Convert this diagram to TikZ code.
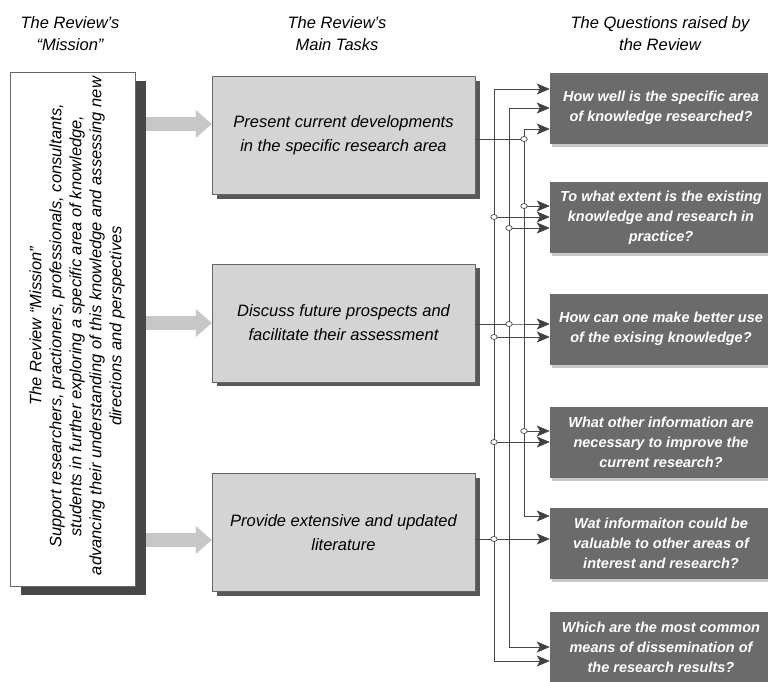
\documentclass[tikz,border=0pt]{standalone}
\usepackage{fontspec}
\setmainfont{Liberation Sans}
\usepackage{tikz}
\usetikzlibrary{arrows.meta,shadows,shapes.geometric}
\tikzset{%
  head/.style={
    align=center,
    inner sep=0pt,
    font=\fontsize{16.5}{22}\selectfont\itshape
  },
  mission box/.style={
    draw=black!60,
    fill=white,
    minimum width=125pt,
    minimum height=514pt,
    drop shadow={shadow xshift=11pt, shadow yshift=-9pt, fill=black!72, opacity=1}
  },
  mission text/.style={
    align=center,
    inner sep=0pt,
    font=\fontsize{16.5}{20}\selectfont\itshape
  },
  task box/.style={
    draw=black!60,
    fill=black!17,
    minimum width=263pt,
    minimum height=118pt,
    align=center,
    font=\fontsize{16.5}{24}\selectfont\itshape,
    drop shadow={shadow xshift=5pt, shadow yshift=-4pt, fill=black!65, opacity=1}
  },
  question box/.style={
    fill=black!58,
    text=white,
    minimum width=222pt,
    minimum height=71pt,
    align=center,
    font=\fontsize{14.5}{20}\selectfont\bfseries\itshape,
    drop shadow={shadow xshift=2pt, shadow yshift=-3pt, fill=black!22, opacity=1}
  },
  feed/.style={
    draw=black!22,
    line width=14pt,
    -{Triangle[length=16pt,width=27pt]}
  },
  link/.style={
    draw=black!72,
    line width=0.8pt
  },
  joint/.style={
    ellipse,
    draw=black!72,
    fill=white,
    line width=0.7pt,
    minimum width=6.5pt,
    minimum height=5pt,
    inner sep=0pt
  },
}

\begin{document}
\begin{tikzpicture}[x=1pt, y=-1pt, > = {Stealth[length=13pt,width=11pt,inset=3pt,fill=black!75]}]
\useasboundingbox (0,0) rectangle (768,681);
\clip (0,0) rectangle (768,681);

    % column heads
    \node[head] (head_mission) at (70,34) {The Review’s\\“Mission”};
    \node[head] (head_tasks) at (337,34) {The Review’s\\Main Tasks};
    \node[head] (head_questions) at (660,34) {The Questions raised by\\the Review};

    % mission
    \node[mission box] (mission) at (72.5,329) {};
    \node[mission text, rotate=90] (mission_text) at (77,326)
        {The Review “Mission”\\
         Support researchers, practioners, professionals, consultants,\\
         students in further exploring a specific area of knowledge,\\
         advancing their understanding of this knowledge and assessing new\\
         directions and perspectives};

    % tasks
    \node[task box] (t1) at (343.5,135.5) {Present current developments\\in the specific research area};
    \node[task box] (t2) at (343.5,323) {Discuss future prospects and\\facilitate their assessment};
    \node[task box] (t3) at (343.5,532.5) {Provide extensive and updated\\literature};

    % questions
    \node[question box] (q1) at (661,108) {How well is the specific area\\of knowledge researched?};
    \node[question box] (q2) at (661,217.5) {To what extent is the existing\\knowledge and research in\\practice?};
    \node[question box] (q3) at (661,329) {How can one make better use\\of the exising knowledge?};
    \node[question box] (q4) at (661,442.5) {What other information are\\necessary to improve the\\current research?};
    \node[question box] (q5) at (661,543.5) {Wat informaiton could be\\valuable to other areas of\\interest and research?};
    \node[question box] (q6) at (661,647.5) {Which are the most common\\means of dissemination of\\the research results?};

    % mission -> tasks
    \draw[feed] ([xshift=11pt]mission.east |- 0,124) -- (t1.west |- 0,124);
    \draw[feed] ([xshift=11pt]mission.east |- 0,323) -- (t2.west |- 0,323);
    \draw[feed] ([xshift=11pt]mission.east |- 0,540) -- (t3.west |- 0,540);

    % buses and task outputs
    \coordinate (b1) at (494,0);
    \coordinate (b2) at (509,0);
    \coordinate (b3) at (524,0);
    \coordinate (t1_out) at (t1.east |- 0,139);
    \coordinate (t2_out) at (t2.east |- 0,324);
    \coordinate (t3_out) at (t3.east |- 0,539);

    % tasks -> questions
    \foreach \t/\b/\q/\y in {t1_out/b3/q1/129, t1_out/b3/q2/206, t1_out/b3/q4/431, t1_out/b3/q5/516,
                             t2_out/b2/q1/108, t2_out/b2/q2/228, t2_out/b2/q3/324, t2_out/b2/q6/647,
                             t3_out/b1/q1/89, t3_out/b1/q2/217, t3_out/b1/q3/337, t3_out/b1/q4/442,
                             t3_out/b1/q5/539, t3_out/b1/q6/661}
        \draw[link, ->] (\t) -| (\b |- 0,\y) -- (\q.west |- 0,\y);

    % junctions
    \foreach \b/\y in {b3/139, b3/206, b1/217, b2/228, b2/324, b1/337, b3/431, b1/442, b1/539}
        \node[joint] (joint_\b_\y) at (\b |- 0,\y) {};
\end{tikzpicture}
\end{document}
